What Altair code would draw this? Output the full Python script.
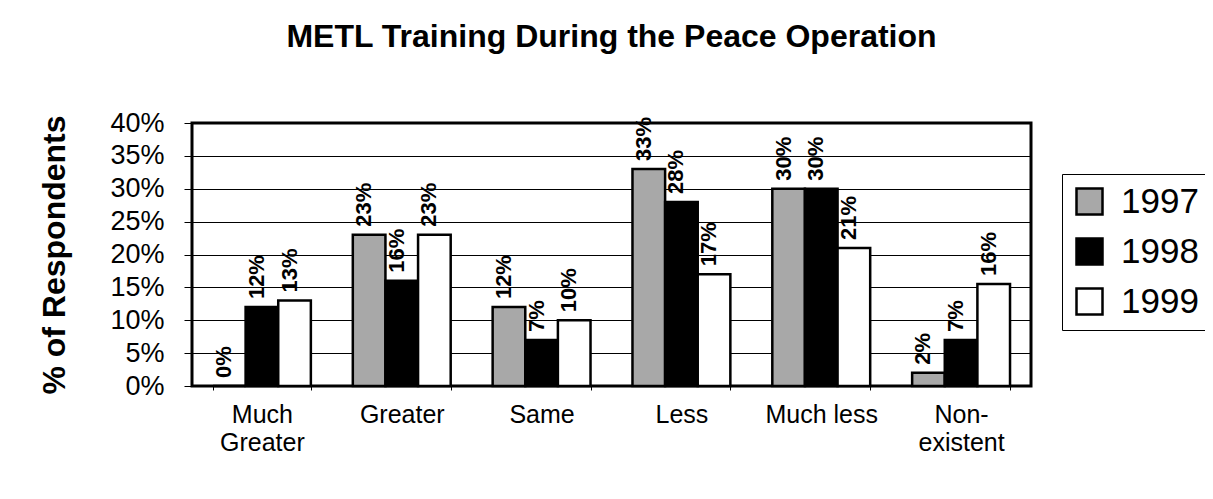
import altair as alt
import pandas as pd

categories = ["Much Greater", "Greater", "Same", "Less", "Much less", "Non-existent"]
years = ["1997", "1998", "1999"]
v1997 = [0.00, 0.23, 0.12, 0.33, 0.30, 0.02]
v1998 = [0.12, 0.16, 0.07, 0.28, 0.30, 0.07]
v1999 = [0.13, 0.23, 0.10, 0.17, 0.21, 0.155]
label_1999 = ["13%", "23%", "10%", "17%", "21%", "16%"]
y_ticks = [0, 0.05, 0.10, 0.15, 0.20, 0.25, 0.30, 0.35, 0.40]

rows = []
for i, c in enumerate(categories):
    for y, vals in zip(years, [v1997, v1998, v1999]):
        v = vals[i]
        lab = label_1999[i] if y == "1999" else f"{round(v*100)}%"
        rows.append({"category": c, "year": y, "value": v, "label": lab})
df = pd.DataFrame(rows)

FONT = "Liberation Sans"

x_enc = alt.X(
    "category:N",
    sort=categories,
    scale=alt.Scale(paddingInner=0.3, paddingOuter=0.15),
    axis=alt.Axis(
        title=None,
        labelAngle=0,
        labelFont=FONT,
        labelFontSize=25,
        labelColor="black",
        labelPadding=12,
        labelLineHeight=28,
        labelExpr="datum.value == 'Much Greater' ? ['Much', 'Greater'] : datum.value == 'Non-existent' ? ['Non-', 'existent'] : datum.value",
        tickBand="extent",
        tickSize=4,
        tickColor="black",
        domain=False,
        grid=False,
    ),
)
xoff = alt.XOffset("year:N", sort=years, scale=alt.Scale(paddingInner=0, paddingOuter=0))
y_enc = alt.Y(
    "value:Q",
    scale=alt.Scale(domain=[0, 0.4], nice=False),
    axis=alt.Axis(
        title="% of Respondents",
        titleFont=FONT,
        titleFontSize=32,
        titleFontWeight="bold",
        titleColor="black",
        titlePadding=38,
        format=".0%",
        values=y_ticks,
        labelOverlap=False,
        labelFont=FONT,
        labelFontSize=27,
        labelColor="black",
        labelPadding=20,
        labelBaseline="middle",
        tickSize=8,
        tickColor="black",
        tickCount=9,
        gridColor="black",
        gridWidth=1,
        domain=False,
    ),
)

bars = alt.Chart(df).mark_bar(stroke="black", strokeWidth=2.5).encode(
    x=x_enc,
    xOffset=xoff,
    y=y_enc,
    color=alt.Color(
        "year:N",
        sort=years,
        scale=alt.Scale(domain=years, range=["#a8a8a8", "#000000", "#ffffff"]),
        legend=alt.Legend(
            title=None,
            orient="none",
            legendX=870,
            legendY=51,
            strokeColor="black",
            fillColor="white",
            padding=10,
            symbolType="square",
            symbolSize=676,
            symbolStrokeColor="black",
            symbolStrokeWidth=2.5,
            labelFont=FONT,
            labelFontSize=35,
            labelColor="black",
            labelOffset=14,
            rowPadding=13,
        ),
    ),
)

labels = alt.Chart(df).mark_text(
    angle=270, align="left", baseline="middle", dx=8, dy=-5,
    font=FONT, fontSize=22, fontWeight="bold", color="black",
).encode(
    x=alt.X("category:N", sort=categories),
    xOffset=alt.XOffset("year:N", sort=years),
    y=alt.Y("value:Q"),
    text="label:N",
)

chart = alt.layer(bars, labels).properties(
    width=839,
    height=263,
    autosize=alt.AutoSizeParams(type="none"),
    padding={"left": 184, "top": 115, "right": 174, "bottom": 105},
    title=alt.Title(
        "METL Training During the Peace Operation",
        font=FONT, fontSize=32, fontWeight="bold", color="black",
        anchor="middle", offset=55,
    ),
).configure(background="white").configure_view(stroke="black", strokeWidth=3)

chart.save("out.html", embed_options={"renderer": "svg", "actions": False})
